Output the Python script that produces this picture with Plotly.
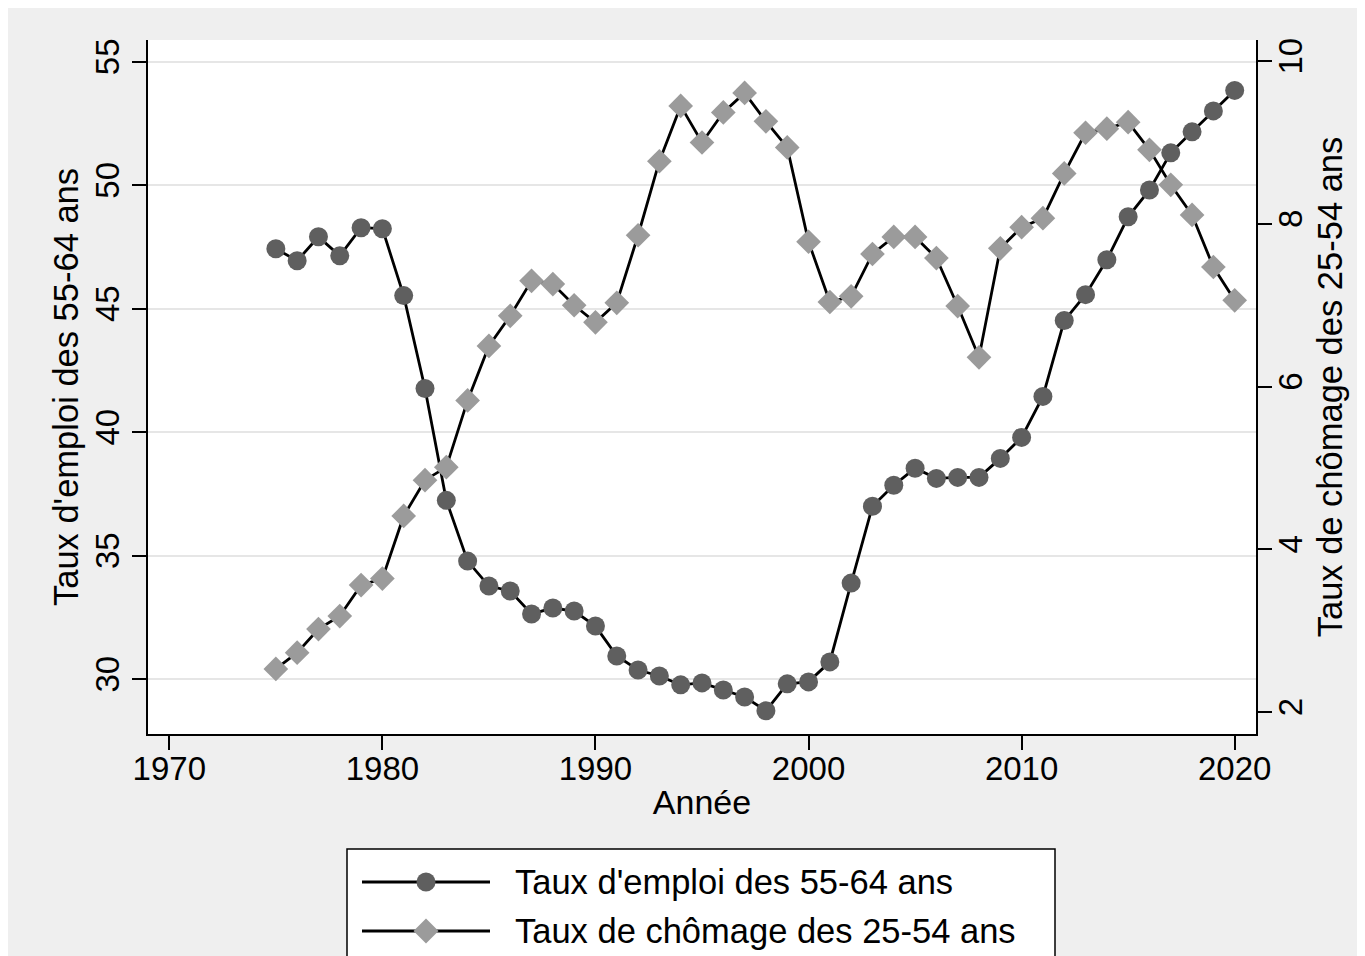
import plotly.graph_objects as go

years = list(range(1975, 2021))
emploi_55_64 = [47.43, 46.94, 47.91, 47.14, 48.28, 48.24, 45.53, 41.77, 37.24, 34.78,
                33.77, 33.57, 32.64, 32.88, 32.76, 32.15, 30.94, 30.37, 30.13, 29.77,
                29.85, 29.56, 29.28, 28.72, 29.81, 29.89, 30.70, 33.89, 37.00, 37.85,
                38.54, 38.13, 38.17, 38.17, 38.94, 39.79, 41.45, 44.52, 45.57, 46.98,
                48.72, 49.81, 51.31, 52.16, 53.01, 53.84]
chomage_25_54 = [2.53, 2.73, 3.02, 3.18, 3.56, 3.64, 4.41, 4.85, 5.01, 5.83,
                 6.50, 6.87, 7.30, 7.26, 7.00, 6.79, 7.03, 7.86, 8.77, 9.45,
                 9.00, 9.37, 9.61, 9.26, 8.94, 7.78, 7.04, 7.11, 7.63, 7.84,
                 7.84, 7.58, 6.99, 6.36, 7.70, 7.96, 8.07, 8.62, 9.12, 9.17,
                 9.25, 8.91, 8.48, 8.11, 7.47, 7.06]

name_emploi = "Taux d'emploi des 55-64 ans"
name_chomage = "Taux de chômage des 25-54 ans"
x_ticks = [1970, 1980, 1990, 2000, 2010, 2020]
y_ticks = [30, 35, 40, 45, 50, 55]
y2_ticks = [2, 4, 6, 8, 10]

FONT = "Liberation Sans, Arial, sans-serif"
C_CIRCLE = "#5f5f5f"
C_DIAMOND = "#9b9b9b"

fig = go.Figure()
fig.add_trace(go.Scatter(
    x=years, y=emploi_55_64, name=name_emploi, mode="lines+markers",
    line=dict(color="black", width=2.8),
    marker=dict(symbol="circle", size=19, color=C_CIRCLE, line=dict(width=0)),
    yaxis="y", showlegend=False))
fig.add_trace(go.Scatter(
    x=years, y=chomage_25_54, name=name_chomage, mode="lines+markers",
    line=dict(color="black", width=2.8),
    marker=dict(symbol="diamond", size=19, color=C_DIAMOND, line=dict(width=0)),
    yaxis="y2", showlegend=False))

W, H = 1357, 948
L, R, T, B = 140, 109, 32, 222
pw, ph = W - L - R, H - T - B

def px(xf):
    return (xf - L) / pw

def py(yf):
    return (H - B - yf) / ph

shapes = []
annotations = []
# legend box
shapes.append(dict(type="rect", xref="paper", yref="paper",
                   x0=px(339), x1=px(1047), y0=py(1000), y1=py(841),
                   line=dict(color="black", width=1.5), fillcolor="white", layer="above"))
entries = [(874, name_emploi, "circle", C_CIRCLE), (923, name_chomage, "diamond", C_DIAMOND)]
for yy, label, sym, col in entries:
    shapes.append(dict(type="line", xref="paper", yref="paper",
                       x0=px(354), x1=px(482), y0=py(yy), y1=py(yy),
                       line=dict(color="black", width=2.8), layer="above"))
    if sym == "circle":
        shapes.append(dict(type="circle", xref="paper", yref="paper",
                           xsizemode="pixel", ysizemode="pixel",
                           xanchor=px(418), yanchor=py(yy),
                           x0=-9.5, x1=9.5, y0=-9.5, y1=9.5,
                           fillcolor=col, line=dict(width=0), layer="above"))
    else:
        shapes.append(dict(type="path", xref="paper", yref="paper",
                           xsizemode="pixel", ysizemode="pixel",
                           xanchor=px(418), yanchor=py(yy),
                           path="M -12.5 0 L 0 12.5 L 12.5 0 L 0 -12.5 Z",
                           fillcolor=col, line=dict(width=0), layer="above"))
    annotations.append(dict(xref="paper", yref="paper", x=px(505), y=py(yy),
                            text=label, showarrow=False, xanchor="left", yanchor="middle",
                            font=dict(family=FONT, size=34.5, color="black")))

fig.update_layout(
    width=W, height=H,
    margin=dict(l=L, r=R, t=T, b=B, autoexpand=False),
    paper_bgcolor="#efefef", plot_bgcolor="white",
    font=dict(family=FONT, color="black"),
    shapes=shapes, annotations=annotations,
    xaxis=dict(range=[1969, 2021], tickvals=x_ticks, ticks="outside", ticklen=14,
               tickwidth=1.5, tickcolor="black", showline=True, linecolor="black",
               linewidth=1.5, showgrid=False, zeroline=False, ticklabelstandoff=-9,
               tickfont=dict(size=33), title=dict(text="Année", font=dict(size=34), standoff=4)),
    yaxis=dict(range=[27.78, 55.88], tickvals=y_ticks, ticks="outside", ticklen=14,
               tickwidth=1.5, tickcolor="black", showline=True, linecolor="black",
               linewidth=1.5, showgrid=True, gridcolor="#e6e6e6", gridwidth=2,
               zeroline=False, tickangle=-90, tickfont=dict(size=33),
               title=dict(text=name_emploi, font=dict(size=34.5), standoff=0)),
    yaxis2=dict(range=[1.73, 10.26], tickvals=y2_ticks, ticks="outside", ticklen=14,
                tickwidth=1.5, tickcolor="black", showline=True, linecolor="black",
                linewidth=1.5, showgrid=False, zeroline=False, overlaying="y", side="right",
                tickangle=-90, tickfont=dict(size=33), ticklabelstandoff=-9,
                title=dict(text=name_chomage, font=dict(size=34.5), standoff=10)),
)

fig.write_html("out.html")
